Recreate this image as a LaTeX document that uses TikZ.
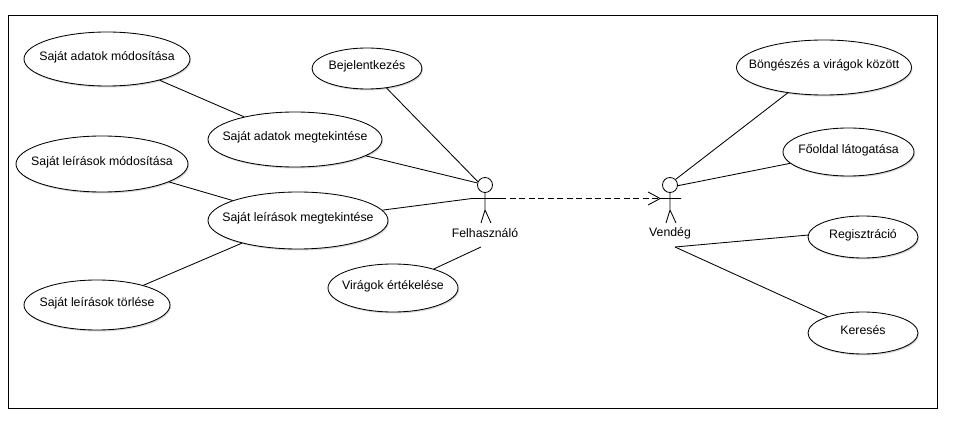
\documentclass[tikz,border=0pt]{standalone}
\usepackage{fontspec}
\setmainfont{Liberation Sans}
\usetikzlibrary{shapes.geometric,arrows.meta,shadows}
\newcommand{\ut}[1]{\makebox[0pt]{\smash{\raisebox{-1.5pt}{#1}}}}
\tikzset{
  uc/.style={ellipse,draw=black,fill=white,line width=0.85pt,inner sep=0pt,font=\fontsize{12.3}{14}\selectfont,
    drop shadow={shadow xshift=1pt,shadow yshift=-1.5pt,fill=black!25,opacity=0.6}},
  lnk/.style={draw=black,line width=0.85pt},
  frame/.style={draw=black,line width=1pt},
  head/.style={circle,draw=black,fill=white,line width=0.85pt,minimum size=15pt,inner sep=0pt},
  actorlabel/.style={font=\fontsize{12.3}{14}\selectfont,inner sep=0pt},
  dep/.style={draw=black,line width=0.85pt,dash pattern=on 6pt off 3.5pt,-{Straight Barb[length=12pt,width=13pt,line width=0.85pt]}}
}
\begin{document}
\begin{tikzpicture}[x=1pt,y=-1pt]
\useasboundingbox (0,0) rectangle (966,430);
\fill[white] (0,0) rectangle (966,430);
\node[frame,draw,minimum width=929pt,minimum height=392pt,inner sep=0pt] (fr) at (472.5,212) {};

\node[uc,minimum width=166pt,minimum height=54pt] (am) at (107,59) {\ut{Saját adatok módosítása}};
\node[uc,minimum width=110pt,minimum height=41pt] (bj) at (367,68.5) {\ut{Bejelentkezés}};
\node[uc,minimum width=174pt,minimum height=55pt] (amg) at (295,139.5) {\ut{Saját adatok megtekintése}};
\node[uc,minimum width=172pt,minimum height=56pt] (lm) at (102,164) {\ut{Saját leírások módosítása}};
\node[uc,minimum width=180pt,minimum height=57pt] (lmg) at (298,220.5) {\ut{Saját leírások megtekintése}};
\node[uc,minimum width=146pt,minimum height=50pt] (lt) at (97,305) {\ut{Saját leírások törlése}};
\node[uc,minimum width=130pt,minimum height=48pt] (ve) at (393,288) {\ut{Virágok értékelése}};
\node[uc,minimum width=175pt,minimum height=55pt] (bo) at (824,67.5) {\ut{Böngészés a virágok között}};
\node[uc,minimum width=131pt,minimum height=48pt] (fo) at (848.5,152) {\ut{Főoldal látogatása}};
\node[uc,minimum width=110pt,minimum height=42pt] (re) at (863,237) {\ut{Regisztráció}};
\node[uc,minimum width=110pt,minimum height=42pt] (ke) at (863,333) {\ut{Keresés}};

% Felhasznalo actor
\node[head] (fh) at (485,185) {};
\coordinate (fal) at (472,198.5);
\coordinate (far) at (500,198.5);
\coordinate (fb) at (485,210);
\coordinate (fll) at (481,223);
\coordinate (flr) at (491,223);
\draw[lnk] (fh) -- (fb) -- (fll) (fb) -- (flr) (fal) -- (far);
\node[actorlabel] (fl) at (485,233) {Felhasználó};
\coordinate (fv) at (481,247);

% Vendeg actor
\node[head] (vh) at (670,185) {};
\coordinate (val) at (660,198.5);
\coordinate (var) at (681,198.5);
\coordinate (vb) at (670,210);
\coordinate (vll) at (666,223);
\coordinate (vlr) at (676,223);
\coordinate (vt) at (661,198.5);
\draw[lnk] (vh) -- (vb) -- (vll) (vb) -- (vlr) (val) -- (var);
\node[actorlabel] (vl) at (670,233) {Vendég};
\coordinate (vf) at (675,247);

% associations
\draw[lnk] (am.-22) -- (amg.156.6);
\draw[lnk] (amg.-13.5) -- (fh.165);
\draw[lnk] (bj.-45) -- (fh.155);
\draw[lnk] (lm.-15.3) -- (lmg.163.5);
\draw[lnk] (lt.23.5) -- (lmg.202.8);
\draw[lnk] (lmg.7) -- (fal);
\draw[lnk] (ve.25.5) -- (fv);
\draw[lnk] (bo.215) -- (vh.45);
\draw[lnk] (fo.191.6) -- (vh.-5);
\draw[lnk] (re.178) -- (vf);
\draw[lnk] (ke.155.4) -- (vf);
\draw[dep] (far) -- (vt);
\end{tikzpicture}
\end{document}
